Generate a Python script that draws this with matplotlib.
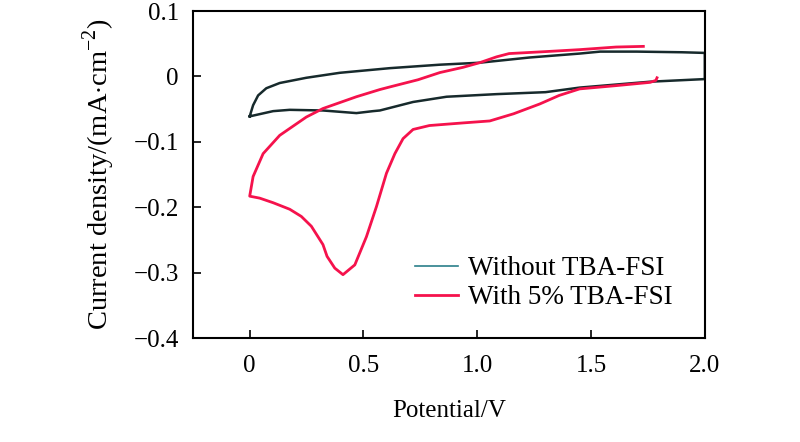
import numpy as np
import matplotlib.pyplot as plt

# without additive: forward (upper) then reverse (lower) branch
plain_x = [0.0, 0.015, 0.037, 0.073, 0.132, 0.249, 0.396, 0.616, 0.836, 1.01, 1.23, 1.45, 1.54, 1.7, 1.9, 2.0,
           2.0, 1.76, 1.45, 1.30, 1.085, 0.865, 0.718, 0.572, 0.542, 0.469, 0.322, 0.176, 0.103, 0.0]
plain_y = [-0.061, -0.044, -0.029, -0.018, -0.010, -0.002, 0.0056, 0.0127, 0.018, 0.021, 0.029, 0.035, 0.038, 0.038, 0.037, 0.036,
           -0.004, -0.008, -0.017, -0.024, -0.027, -0.031, -0.039, -0.052, -0.053, -0.056, -0.052, -0.051, -0.053, -0.061]

# with 5% TBA-FSI
tba_x = [1.73, 1.61, 1.45, 1.30, 1.14, 1.085, 1.01, 0.938, 0.836, 0.74, 0.616, 0.572, 0.469, 0.322, 0.249,
         0.132, 0.059, 0.015, 0.0,
         0.044, 0.103, 0.176, 0.227, 0.271, 0.322, 0.34, 0.374, 0.41, 0.462, 0.513, 0.557, 0.601, 0.638,
         0.674, 0.718, 0.79, 0.938, 1.055, 1.16, 1.275, 1.36, 1.45, 1.61, 1.76, 1.785, 1.79]
tba_y = [0.046, 0.045, 0.041, 0.038, 0.035, 0.030, 0.021, 0.014, 0.006, -0.005, -0.016, -0.020, -0.031, -0.049, -0.062,
         -0.090, -0.118, -0.153, -0.183,
         -0.186, -0.193, -0.203, -0.214, -0.229, -0.257, -0.275, -0.293, -0.303, -0.288, -0.245, -0.199, -0.148, -0.118,
         -0.095, -0.081, -0.075, -0.071, -0.068, -0.057, -0.042, -0.029, -0.019, -0.014, -0.009, -0.006, -0.002]

xticks = [0, 0.5, 1.0, 1.5, 2.0]
xlabels = ['0', '0.5', '1.0', '1.5', '2.0']
yticks = [0.1, 0, -0.1, -0.2, -0.3, -0.4]
ylabels = ['0.1', '0', '\u22120.1', '\u22120.2', '\u22120.3', '\u22120.4']

plt.rcParams['font.family'] = ['Liberation Serif', 'DejaVu Serif']
plt.rcParams['mathtext.fontset'] = 'custom'
plt.rcParams['mathtext.rm'] = 'Liberation Serif'

fig = plt.figure(figsize=(8, 4.42), dpi=100)
ax = fig.add_axes([0.241, 0.235, 0.64, 0.74])

ax.plot(plain_x, plain_y, color='#172a2c', lw=1.8, label='Without TBA-FSI')
ax.plot(tba_x, tba_y, color='#f5124c', lw=2.0, label='With 5% TBA-FSI')

ax.set_xlim(-0.25, 2.0)
ax.set_ylim(-0.4, 0.1)
ax.set_xticks(xticks)
ax.set_xticklabels(xlabels)
ax.set_yticks(yticks)
ax.set_yticklabels(ylabels)
ax.tick_params(direction='in', length=6, width=1.2, labelsize=18)
ax.tick_params(axis='x', pad=12)
ax.tick_params(axis='y', pad=10)
for s in ax.spines.values():
    s.set_linewidth(1.5)

ax.set_xlabel('Potential/V', fontsize=18, labelpad=17)
ax.set_ylabel(r'Current density/(mA$\cdot$cm$^{-2}$)', fontsize=20.5, labelpad=12)

leg = ax.legend(loc='center left', bbox_to_anchor=(0.434, 0.168), frameon=False, fontsize=19.5,
                handlelength=1.6, handletextpad=0.35, labelspacing=0.15, borderpad=0, borderaxespad=0)
leg.get_lines()[0].set_color('#2a7f8a')
leg.get_lines()[0].set_linewidth(1.2)

fig.savefig('out.png', dpi=100)
